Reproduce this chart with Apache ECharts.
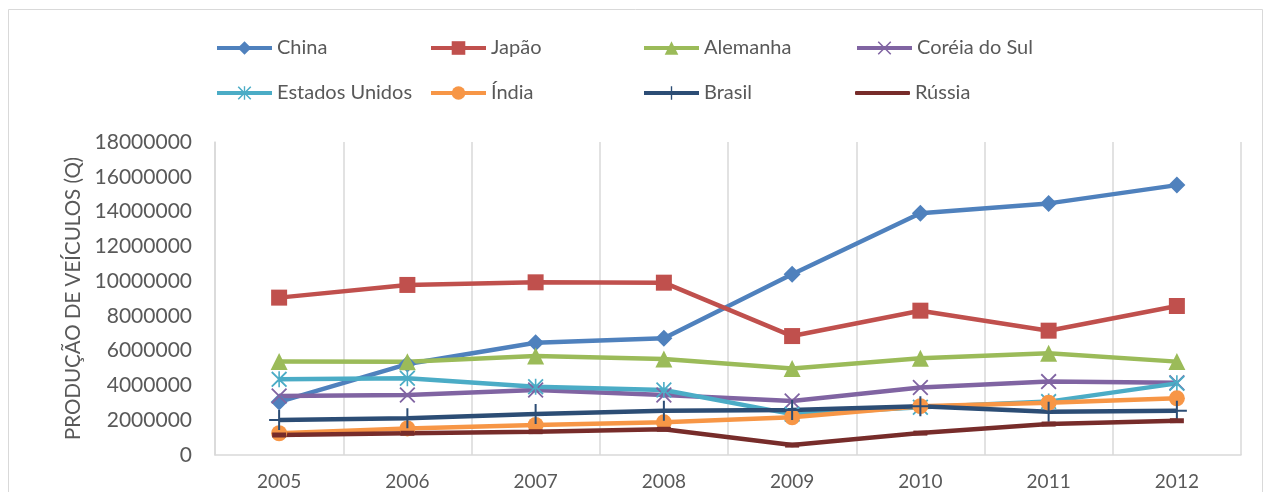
<!DOCTYPE html>
<html>
<head>
<meta charset="utf-8">
<title>Produção de veículos</title>
<script src="https://cdn.jsdelivr.net/npm/echarts@6/dist/echarts.min.js"></script>
<style>
  html, body { margin: 0; padding: 0; background: #ffffff; }
  #chart { width: 1268px; height: 492px; }
</style>
</head>
<body>
<div id="chart"></div>
<script>
// Categories (years)
const years = ['2005', '2006', '2007', '2008', '2009', '2010', '2011', '2012'];

// Vehicle production per country
const china    = [3050000, 5230000, 6450000, 6710000, 10390000, 13900000, 14470000, 15520000];
const japao    = [9050000, 9780000, 9930000, 9910000, 6840000, 8300000, 7150000, 8570000];
const alemanha = [5370000, 5360000, 5690000, 5520000, 4980000, 5560000, 5850000, 5370000];
const coreia   = [3390000, 3450000, 3740000, 3450000, 3100000, 3880000, 4220000, 4160000];
const eua      = [4350000, 4410000, 3930000, 3740000, 2350000, 2750000, 3070000, 4120000];
const india    = [1250000, 1530000, 1730000, 1880000, 2170000, 2810000, 3010000, 3260000];
const brasil   = [2010000, 2110000, 2360000, 2550000, 2590000, 2810000, 2490000, 2550000];
const russia   = [1150000, 1250000, 1340000, 1480000, 570000, 1260000, 1780000, 1970000];

// Y axis ticks
const yMin = 0;
const yMax = 18000000;
const yStep = 2000000;

const FONT = 'Lato, "Open Sans", sans-serif';
const TEXT = '#595959';
const GRID = '#D9D9D9';

// Marker outlines
const SYM_X = 'path://M0,1.6L1.6,0L10,8.4L18.4,0L20,1.6L11.6,10L20,18.4L18.4,20L10,11.6L1.6,20L0,18.4L8.4,10Z';
const SYM_STAR = 'path://M0,1.6L1.6,0L10,8.4L18.4,0L20,1.6L11.6,10L20,18.4L18.4,20L10,11.6L1.6,20L0,18.4L8.4,10Z' +
                 'M9,0L11,0L11,20L9,20Z';
const SYM_PLUS = 'path://M9,0L11,0L11,9L20,9L20,11L11,11L11,20L9,20L9,11L0,11L0,9L9,9Z';
const SYM_DASH = 'path://M0,0L20,0L20,6L0,6Z';

const seriesDefs = [
  { name: 'China',          data: china,    color: '#4F81BD', symbol: 'diamond',  size: 17 },
  { name: 'Japão',          data: japao,    color: '#C0504D', symbol: 'rect',     size: 16 },
  { name: 'Alemanha',       data: alemanha, color: '#9BBB59', symbol: 'triangle', size: 17 },
  { name: 'Coréia do Sul',  data: coreia,   color: '#8064A2', symbol: SYM_X,      size: 16 },
  { name: 'Estados Unidos', data: eua,      color: '#4BACC6', symbol: SYM_STAR,   size: 16 },
  { name: 'Índia',          data: india,    color: '#F79646', symbol: 'circle',   size: 16 },
  { name: 'Brasil',         data: brasil,   color: '#2C4D75', symbol: SYM_PLUS,   size: 20 },
  { name: 'Rússia',         data: russia,   color: '#772C2A', symbol: SYM_DASH,   size: [14, 5] }
];

// Legend slots: two rows of four
const legendLeft = [215, 429, 642, 855];
const legendTop = [38, 83];

const legends = seriesDefs.map((s, i) => {
  const base = {
    data: [s.name],
    left: legendLeft[i % 4],
    top: legendTop[Math.floor(i / 4)],
    padding: 0,
    itemWidth: 55,
    textStyle: { fontFamily: FONT, fontSize: 20, color: TEXT },
    selectedMode: false
  };
  if (s.symbol === SYM_DASH) {
    // plain line key
    return Object.assign(base, { itemHeight: 4, icon: 'roundRect' });
  }
  return Object.assign(base, { itemHeight: 17, lineStyle: { width: 4 } });
});

const series = seriesDefs.map(s => ({
  name: s.name,
  type: 'line',
  data: s.data,
  symbol: s.symbol,
  symbolSize: s.size,
  lineStyle: { width: 4.5, color: s.color },
  itemStyle: { color: s.color },
  emphasis: { disabled: true },
  animation: false
}));

const chart = echarts.init(document.getElementById('chart'), null, { renderer: 'canvas' });
chart.setOption({
  backgroundColor: '#ffffff',
  animation: false,
  graphic: [{
    type: 'rect',
    z: -10,
    shape: { x: 8.5, y: 9.5, width: 1254, height: 500 },
    style: { fill: '#ffffff', stroke: GRID, lineWidth: 1 }
  }],
  legend: legends,
  grid: { left: 215, right: 27, top: 142, bottom: 37, containLabel: false },
  xAxis: {
    type: 'category',
    data: years,
    boundaryGap: true,
    axisLine: { show: true, lineStyle: { color: GRID, width: 1.5 } },
    axisTick: { show: false },
    splitLine: { show: true, lineStyle: { color: GRID, width: 1.5 } },
    axisLabel: { fontFamily: FONT, fontSize: 19, color: TEXT, margin: 17 }
  },
  yAxis: {
    type: 'value',
    min: yMin,
    max: yMax,
    interval: yStep,
    name: 'PRODUÇÃO DE VEÍCULOS (Q)',
    nameLocation: 'middle',
    nameGap: 130,
    nameTextStyle: { fontFamily: FONT, fontSize: 20.5, color: TEXT },
    axisLine: { show: true, lineStyle: { color: GRID, width: 1.5 } },
    axisTick: { show: false },
    splitLine: { show: false },
    axisLabel: {
      fontFamily: FONT, fontSize: 21, color: TEXT, margin: 23,
      formatter: v => String(v)
    }
  },
  series: series
});
</script>
</body>
</html>
